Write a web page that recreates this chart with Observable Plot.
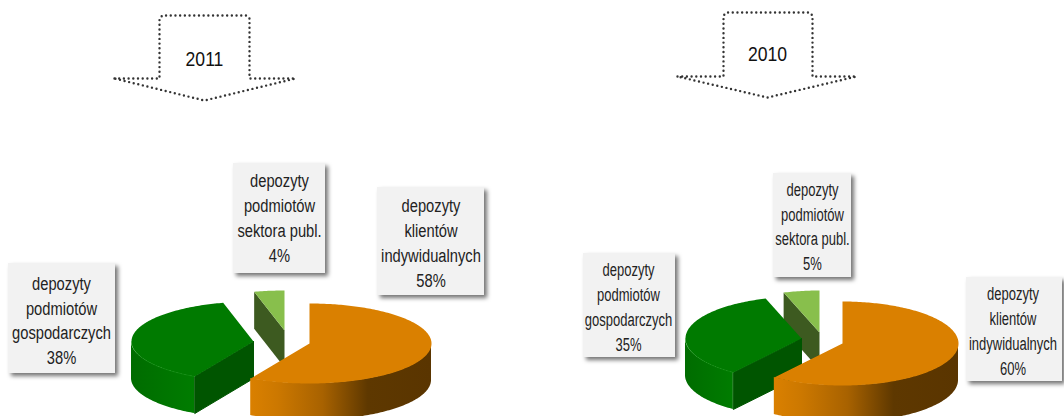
<!DOCTYPE html>
<html>
<head>
<meta charset="utf-8">
<script src="https://cdn.jsdelivr.net/npm/d3@7"></script>
<script src="https://cdn.jsdelivr.net/npm/@observablehq/plot@0.6"></script>
<style>html,body{margin:0;padding:0;background:#fff}svg{display:block}</style>
</head>
<body>
<div id="chart"></div>
<script>
// ---- values ----
const years = ["2011", "2010"];
const shares2011 = [58, 38, 4];
const shares2010 = [60, 35, 5];
const sliceNames = [
  "depozyty\nklientów\nindywidualnych",
  "depozyty\npodmiotów\ngospodarczych",
  "depozyty\npodmiotów\nsektora publ."
];
const topColors = ["#da8000", "#007a00", "#88bf4c"];

// ---- layout ----
const W = 1064, H = 416;
const pieLayout = [
  {rx: 122, ry: 40, depth: 37, squeeze: 0.775,
   centers: [[309, 343], [253, 341], [284, 330]],
   boxes: [[377, 484, 187, 295], [8, 115, 263, 373], [233, 325, 163, 273]],
   textShift: [[0, 0], [-0.5, 0.5], [0, -2]]},
  {rx: 116, ry: 42, depth: 37, squeeze: 0.685,
   centers: [[842, 343], [801, 338], [819, 332]],
   boxes: [[966, 1062, 277, 381], [583, 675, 253, 357], [773, 851, 173, 277]],
   textShift: [[-1.5, 0], [-1, 0], [0, -0.5]]}
];
const arrowLayout = [
  {left: 159, right: 249, top: 15, wing: 78, wingL: 114, wingR: 295, tipX: 204, tipY: 100, tx: 204, ty: 59},
  {left: 723, right: 812, top: 12, wing: 76, wingL: 677, wingR: 856, tipX: 767, tipY: 97, tx: 767, ty: 54}
];

const rad = d => d * Math.PI / 180;
const arc = (c, g, a0, a1) => {
  const n = Math.max(2, Math.ceil(Math.abs(a1 - a0)));
  return d3.range(n + 1).map(i => {
    const a = rad(a0 + (a1 - a0) * i / n);
    return {x: c[0] + g.rx * Math.sin(a), y: c[1] - g.ry * Math.cos(a)};
  });
};

const marks = [];

// gradients for the pie walls
marks.push(() => {
  const ns = "http://www.w3.org/2000/svg";
  const defs = document.createElementNS(ns, "defs");
  const grad = (id, stops) => {
    const g = document.createElementNS(ns, "linearGradient");
    g.setAttribute("id", id);
    for (const [o, c] of stops) {
      const s = document.createElementNS(ns, "stop");
      s.setAttribute("offset", o);
      s.setAttribute("stop-color", c);
      g.appendChild(s);
    }
    defs.appendChild(g);
  };
  grad("wallOrange", [[0, "#da8000"], [0.15, "#cc7800"], [0.4, "#a86200"], [0.65, "#5e3800"], [1, "#5a3500"]]);
  grad("wallGreen", [[0, "#006c00"], [0.5, "#007400"], [1, "#007c00"]]);
  return defs;
});

[shares2011, shares2010].forEach((shares, k) => {
  const g = pieLayout[k];
  const ang = shares.map(s => s * 3.6);
  const a0 = 0, a1 = ang[0], a2 = ang[0] + ang[1], a3 = 360;
  const [cO, cG, cL] = g.centers;

  // light slice: visible cut wall, then top
  const lp = arc(cL, g, a2, a3);
  const lEdge = lp[0];
  marks.push(Plot.line(
    [lEdge, {x: cL[0], y: cL[1]}, {x: cL[0], y: cL[1] + g.depth}, {x: lEdge.x, y: lEdge.y + g.depth}],
    {x: "x", y: "y", fill: "#3d5a20", stroke: "none"}));
  marks.push(Plot.line([{x: cL[0], y: cL[1]}, ...lp], {x: "x", y: "y", fill: topColors[2], stroke: "none"}));

  // green slice: outer wall, cut wall, top
  const gWall = arc(cG, g, a1, 270);
  marks.push(Plot.areaY(gWall, {x: "x", y1: "y", y2: d => d.y + g.depth, fill: "url(#wallGreen)", stroke: "none"}));
  const gEdge = gWall[0];
  marks.push(Plot.line(
    [{x: cG[0], y: cG[1]}, gEdge, {x: gEdge.x, y: gEdge.y + g.depth}, {x: cG[0], y: cG[1] + g.depth}, {x: cG[0], y: cG[1]}],
    {x: "x", y: "y", fill: "#005500", stroke: "#005500", strokeWidth: 1}));
  marks.push(Plot.line([{x: cG[0], y: cG[1]}, ...arc(cG, g, a1, a2)], {x: "x", y: "y", fill: topColors[1], stroke: "none"}));
  marks.push(Plot.line(gWall, {x: "x", y: "y", stroke: "#1f9a1f", strokeWidth: 1, strokeOpacity: 0.4}));

  // orange slice: outer wall, top
  const oWall = arc(cO, g, 90, a1);
  marks.push(Plot.areaY(oWall, {x: "x", y1: "y", y2: d => d.y + g.depth, fill: "url(#wallOrange)", stroke: "none"}));
  marks.push(Plot.line([{x: cO[0], y: cO[1]}, ...arc(cO, g, a0, a1)], {x: "x", y: "y", fill: topColors[0], stroke: "none"}));

  // label boxes
  const labels = shares.map((s, i) => ({
    x1: g.boxes[i][0], x2: g.boxes[i][1], y1: g.boxes[i][2], y2: g.boxes[i][3],
    dx: g.textShift[i][0], dy: g.textShift[i][1],
    text: `${sliceNames[i]}\n${s}%`
  }));
  marks.push(Plot.rect(labels, {
    x1: "x1", x2: "x2", y1: "y1", y2: "y2", fill: "#f2f2f2", stroke: "none",
    imageFilter: "drop-shadow(3px 3px 2px rgba(0,0,0,0.55))"
  }));
  marks.push(Plot.text(labels, {
    x: d => (d.x1 + d.x2) / 2 + d.dx, y: d => (d.y1 + d.y2) / 2 + d.dy, text: "text",
    fontFamily: "'Liberation Sans',sans-serif",
    fontSize: 19, lineHeight: 1.31, fill: "#222", lineAnchor: "middle",
    className: "squeeze" + k
  }));
});

// dotted arrows with the years
arrowLayout.forEach((a, k) => {
  const r = 3;
  const outline = [
    {x: a.wingL, y: a.wing}, {x: a.left, y: a.wing},
    {x: a.left, y: a.top + r}, {x: a.left + r, y: a.top},
    {x: a.right - r, y: a.top}, {x: a.right, y: a.top + r},
    {x: a.right, y: a.wing}, {x: a.wingR, y: a.wing},
    {x: a.tipX, y: a.tipY}, {x: a.wingL, y: a.wing}
  ];
  marks.push(Plot.line(outline, {
    x: "x", y: "y", stroke: "#333", strokeWidth: 2.4,
    strokeDasharray: "0 4.7", strokeLinecap: "round", strokeLinejoin: "round"
  }));
  marks.push(Plot.text([years[k]], {
    x: () => a.tx, y: () => a.ty, text: d => d,
    fontFamily: "'Liberation Sans',sans-serif", fontSize: 20, fill: "#111",
    className: "yearText"
  }));
});

const chart = Plot.plot({
  width: W, height: H, margin: 0,
  style: {background: "#fff"},
  x: {domain: [0, W], range: [0, W], axis: null},
  y: {domain: [0, H], range: [0, H], axis: null},
  marks
});
const squeezeText = (selector, s) => chart.querySelectorAll(selector).forEach(t => {
  t.setAttribute("transform", `${t.getAttribute("transform") || ""} scale(${s},1)`);
});
pieLayout.forEach((g, k) => squeezeText(`.squeeze${k} text`, g.squeeze));
squeezeText(".yearText text", 0.88);
document.getElementById("chart").appendChild(chart);
</script>
</body>
</html>
